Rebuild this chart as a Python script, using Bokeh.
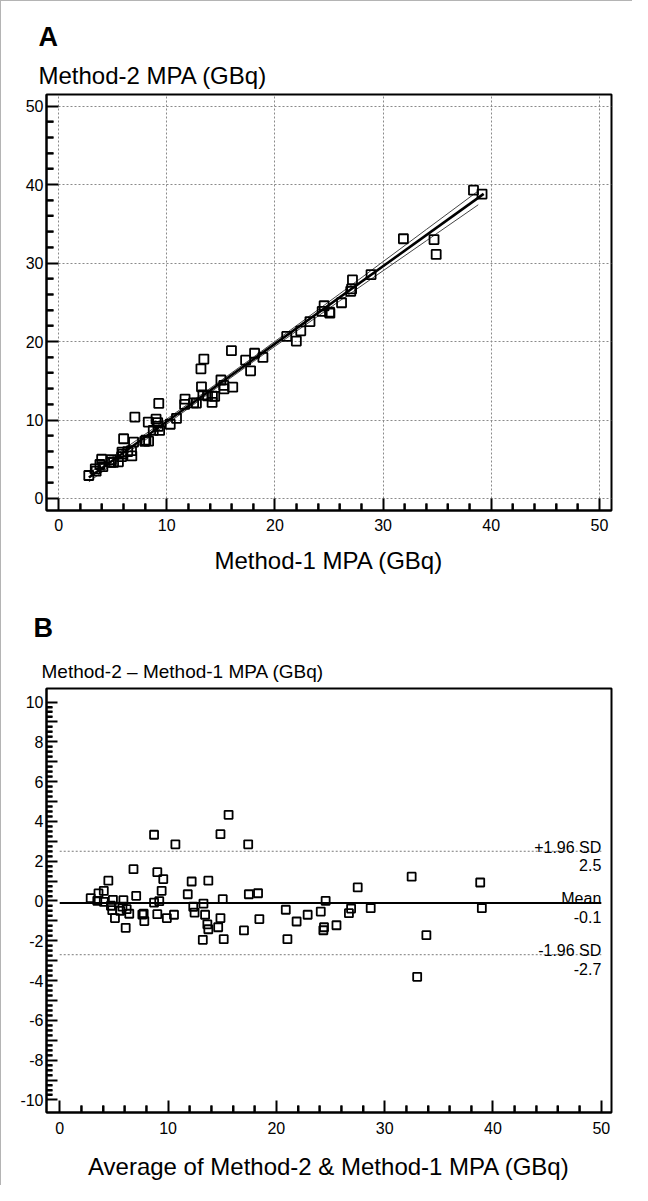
from bokeh.plotting import figure
from bokeh.models import Range1d, FixedTicker, Title, Label, CustomJSTickFormatter
from bokeh.layouts import column
from bokeh.embed import file_html
from bokeh.resources import INLINE

FONT = "Liberation Sans"

# ---------------- Panel A data (Method-1 vs Method-2 MPA, GBq) ----------------
method1 = [2.79, 3.39, 3.47, 3.82, 4.09, 3.98, 4.88, 4.85, 5.08, 5.53,
           5.83, 5.86, 5.93, 6.39, 6.74, 6.77, 6.01, 6.93, 7.97, 8.32,
           8.07, 7.05, 8.29, 9.01, 9.16, 8.75, 9.20, 9.34, 10.32, 10.90,
           9.26, 11.65, 11.69, 12.48, 12.74, 13.34, 14.19, 13.77, 14.22, 14.43,
           13.21, 13.16, 15.27, 15.29, 15.01, 16.10, 13.43, 17.75, 15.98, 17.29,
           18.12, 18.89, 21.09, 21.98, 22.39, 23.24, 24.37, 25.08, 25.06, 24.55,
           26.16, 27.01, 27.09, 27.17, 28.89, 31.88, 34.71, 34.91, 38.36, 39.15]
method2 = [2.93, 3.77, 3.48, 4.33, 4.05, 5.00, 4.94, 4.61, 4.62, 4.67,
           5.34, 5.90, 5.65, 5.98, 6.10, 5.42, 7.61, 7.19, 7.29, 7.31,
           7.43, 10.38, 9.74, 10.11, 9.67, 8.67, 9.19, 8.68, 9.46, 10.21,
           12.11, 11.99, 12.67, 12.19, 12.16, 13.21, 12.24, 13.08, 13.05, 13.01,
           14.23, 16.52, 14.41, 13.97, 15.10, 14.18, 17.76, 16.27, 18.83, 17.63,
           18.51, 17.98, 20.65, 20.06, 21.36, 22.55, 23.84, 23.61, 23.74, 24.56,
           24.94, 26.40, 26.71, 27.85, 28.53, 33.10, 32.99, 31.10, 39.29, 38.79]

reg_x = [2.8, 39.3]
reg_y = [2.67, 38.81]
ci_x = [2.8, 6, 10, 14, 18, 22, 26, 30, 34, 38.8]
ci_upper = [3.22, 6.26, 10.12, 14.03, 18.00, 22.03, 26.09, 30.18, 34.28, 39.19]
ci_lower = [2.12, 5.42, 9.48, 13.49, 17.44, 21.33, 25.19, 29.02, 32.84, 37.43]

# ---------------- Panel B data (Bland-Altman) ----------------
avg = [2.86, 3.58, 3.47, 4.07, 4.07, 4.49, 4.91, 4.73, 4.85, 5.10,
       5.58, 5.88, 5.79, 6.18, 6.42, 6.09, 6.81, 7.06, 7.63, 7.81,
       7.75, 8.71, 9.01, 9.56, 9.41, 8.71, 9.19, 9.01, 9.89, 10.55,
       10.68, 11.82, 12.18, 12.33, 12.45, 13.27, 13.21, 13.42, 13.63, 13.72,
       13.72, 14.84, 14.84, 14.63, 15.05, 15.14, 15.59, 17.01, 17.40, 17.46,
       18.31, 18.43, 20.87, 21.02, 21.87, 22.89, 24.10, 24.34, 24.40, 24.55,
       25.55, 26.70, 26.90, 27.51, 28.71, 32.49, 33.85, 33.00, 38.82, 38.97]
diff = [0.14, 0.38, 0.01, 0.51, -0.04, 1.02, 0.06, -0.24, -0.46, -0.86,
        -0.49, 0.04, -0.28, -0.41, -0.64, -1.35, 1.60, 0.26, -0.68, -1.01,
        -0.64, 3.33, 1.45, 1.10, 0.51, -0.08, -0.01, -0.66, -0.86, -0.69,
        2.85, 0.34, 0.98, -0.29, -0.58, -0.13, -1.95, -0.69, -1.17, -1.42,
        1.02, 3.36, -0.86, -1.32, 0.09, -1.92, 4.33, -1.48, 2.85, 0.34,
        0.39, -0.91, -0.44, -1.92, -1.03, -0.69, -0.53, -1.47, -1.32, 0.01,
        -1.22, -0.61, -0.38, 0.68, -0.36, 1.22, -1.72, -3.81, 0.93, -0.36]
mean_diff = -0.1
sd_upper = 2.5
sd_lower = -2.7
line_x = [0, 50]

# frame geometry
A_W, A_H = 571, 416
A_X = (-1.12, 51.12)
A_Y = (-1.53, 51.48)
B_W, B_H = 574, 424
B_X = (-1.22, 50.94)
B_Y = (-10.63, 10.68)

major_A = [0, 10, 20, 30, 40, 50]
minor_A = [v for v in range(0, 51, 2) if v % 10]
major_Bx = [0, 10, 20, 30, 40, 50]
minor_Bx = [v for v in range(0, 51, 2) if v % 10]
major_By = list(range(-10, 11))
minor_By = [-10 + 0.25 * i for i in range(81) if i % 4]


def style_axis(ax, major_in=12, minor_in=6, label_size="16px", standoff=8):
    ax.axis_line_width = 2
    ax.axis_line_color = "black"
    ax.major_tick_in = major_in
    ax.major_tick_out = 0
    ax.minor_tick_in = minor_in
    ax.minor_tick_out = 0
    ax.minor_tick_line_color = "black"
    ax.minor_tick_line_width = 2
    ax.major_tick_line_width = 2
    ax.major_tick_line_color = "black"
    ax.major_label_text_font = FONT
    ax.major_label_text_font_size = label_size
    ax.major_label_text_color = "black"
    ax.major_label_standoff = standoff
    ax.axis_label_text_font = FONT
    ax.axis_label_text_font_style = "normal"
    ax.axis_label_text_color = "black"


# ================= Panel A =================
pA = figure(width=631, height=591, x_range=Range1d(*A_X), y_range=Range1d(*A_Y),
            output_backend="svg", toolbar_location=None,
            min_border_left=39, min_border_right=21, min_border_top=93, min_border_bottom=82)
pA.outline_line_color = "black"
pA.outline_line_width = 2
pA.background_fill_color = "white"
pA.border_fill_color = "white"

pA.xaxis.ticker = FixedTicker(ticks=major_A, minor_ticks=minor_A)
pA.yaxis.ticker = FixedTicker(ticks=major_A, minor_ticks=minor_A)
style_axis(pA.xaxis[0], minor_in=7, standoff=8)
style_axis(pA.yaxis[0], minor_in=7, standoff=3)
pA.xaxis.axis_label = "Method-1 MPA (GBq)"
pA.xaxis.axis_label_text_font_size = "24px"
pA.xaxis.axis_label_standoff = 13

pA.xgrid.ticker = FixedTicker(ticks=major_A)
pA.ygrid.ticker = FixedTicker(ticks=major_A)
for g in (pA.xgrid[0], pA.ygrid[0]):
    g.grid_line_color = "#8a8a8a"
    g.grid_line_dash = "2 2"
    g.grid_line_width = 1

pA.add_layout(Title(text="Method-2 MPA (GBq)", align="left", offset=-8,
                    text_font=FONT, text_font_size="24px", text_font_style="normal",
                    text_color="black", standoff=12), "above")
pA.add_layout(Title(text="A", align="left", offset=-8,
                    text_font=FONT, text_font_size="27px", text_font_style="bold",
                    text_color="black", standoff=4), "above")

pA.line(ci_x, ci_upper, line_color="#444444", line_width=1)
pA.line(ci_x, ci_lower, line_color="#444444", line_width=1)
pA.line(reg_x, reg_y, line_color="black", line_width=2.6)
pA.scatter(method1, method2, marker="square", size=9, fill_color=None,
           line_color="black", line_width=1.8)

# ================= Panel B =================
pB = figure(width=631, height=593, x_range=Range1d(*B_X), y_range=Range1d(*B_Y),
            output_backend="svg", toolbar_location=None,
            min_border_left=45, min_border_right=12, min_border_top=96, min_border_bottom=73)
pB.outline_line_color = "black"
pB.outline_line_width = 2
pB.grid.visible = False

pB.xaxis.ticker = FixedTicker(ticks=major_Bx, minor_ticks=minor_Bx)
pB.yaxis.ticker = FixedTicker(ticks=major_By, minor_ticks=minor_By)
style_axis(pB.xaxis[0], major_in=12, minor_in=7, standoff=9)
style_axis(pB.yaxis[0], major_in=11, minor_in=6, standoff=3)
pB.yaxis.formatter = CustomJSTickFormatter(code="return (Math.abs(tick) % 2 === 0) ? tick.toString() : '';")
pB.xaxis.axis_label = "Average of Method-2 & Method-1 MPA (GBq)"
pB.xaxis.axis_label_text_font_size = "24px"
pB.xaxis.axis_label_standoff = 16

pB.add_layout(Title(text="Method-2 \u2013 Method-1 MPA (GBq)", align="left", offset=-5,
                    text_font=FONT, text_font_size="19px", text_font_style="normal",
                    text_color="black", standoff=14), "above")
pB.add_layout(Title(text="B", align="left", offset=-13,
                    text_font=FONT, text_font_size="27px", text_font_style="bold",
                    text_color="black", standoff=14, vertical_align="top"), "above")

# short vertical / horizontal marks for minor ticks, drawn in the plot area
dyA = 7 * (A_Y[1] - A_Y[0]) / A_H
dxA = 7 * (A_X[1] - A_X[0]) / A_W
pA.segment(x0=minor_A, y0=[A_Y[0]] * len(minor_A), x1=minor_A, y1=[A_Y[0] + dyA] * len(minor_A),
           line_color="black", line_width=2, level="overlay")
pA.segment(x0=[A_X[0]] * len(minor_A), y0=minor_A, x1=[A_X[0] + dxA] * len(minor_A), y1=minor_A,
           line_color="black", line_width=2, level="overlay")
dyB = 7 * (B_Y[1] - B_Y[0]) / B_H
dxB = 6 * (B_X[1] - B_X[0]) / B_W
pB.segment(x0=minor_Bx, y0=[B_Y[0]] * len(minor_Bx), x1=minor_Bx, y1=[B_Y[0] + dyB] * len(minor_Bx),
           line_color="black", line_width=2, level="overlay")
pB.segment(x0=[B_X[0]] * len(minor_By), y0=minor_By, x1=[B_X[0] + dxB] * len(minor_By), y1=minor_By,
           line_color="black", line_width=2, level="overlay")

pB.line(line_x, [sd_upper, sd_upper], line_color="#7a7a7a", line_width=1, line_dash="2 2")
pB.line(line_x, [sd_lower, sd_lower], line_color="#7a7a7a", line_width=1, line_dash="2 2")
pB.line(line_x, [mean_diff, mean_diff], line_color="black", line_width=2)
pB.scatter(avg, diff, marker="square", size=8, fill_color=None,
           line_color="black", line_width=1.8)

label_kw = dict(text_font=FONT, text_font_size="16px", text_color="black", text_align="right")
for yv, top_txt in ((sd_upper, "+1.96 SD"), (mean_diff, "Mean"), (sd_lower, "-1.96 SD")):
    pB.add_layout(Label(x=line_x[1], y=yv, text=top_txt, y_offset=4,
                        text_baseline="alphabetic", **label_kw))
    pB.add_layout(Label(x=line_x[1], y=yv, text=f"{yv}", y_offset=-8,
                        text_baseline="top", **label_kw))

layout = column(pA, pB, spacing=0,
                styles={"border-left": "1px solid #b4b4b4", "border-top": "1px solid #b4b4b4"})

open("out.html", "w").write(file_html(layout, INLINE))
